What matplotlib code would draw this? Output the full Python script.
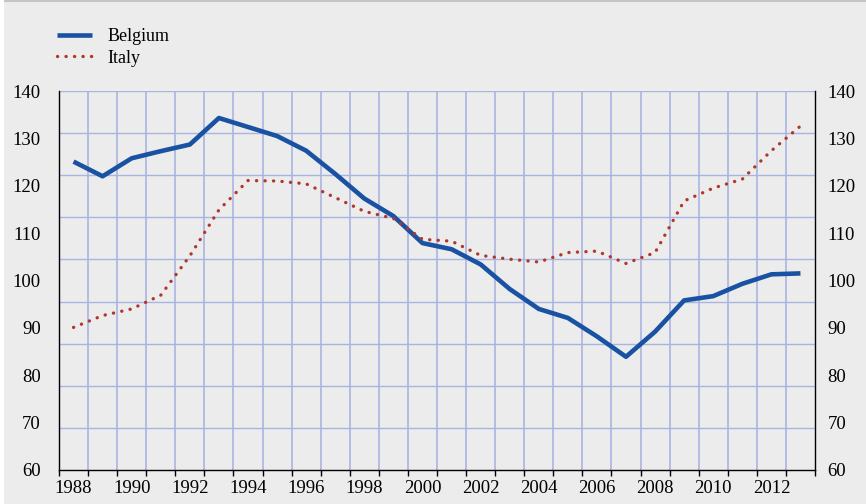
import matplotlib
matplotlib.use("Agg")
import matplotlib.pyplot as plt
from matplotlib.lines import Line2D
import numpy as np

years = list(range(1988, 2014))
belgium = [125.1, 122.0, 125.8, 127.3, 128.7, 134.3, 132.4, 130.5, 127.4, 122.5,
           117.3, 113.6, 107.9, 106.6, 103.4, 98.2, 94.0, 92.1, 88.2, 83.9,
           89.2, 95.8, 96.7, 99.3, 101.3, 101.5]
italy = [90.1, 92.6, 94.0, 96.9, 105.2, 114.9, 121.1, 121.0, 120.4, 117.5,
         114.6, 113.1, 108.7, 108.3, 105.3, 104.5, 103.9, 105.9, 106.2, 103.6,
         105.9, 116.8, 119.5, 121.4, 127.4, 132.6]
ytick_values = [60, 70, 80, 90, 100, 110, 120, 130, 140]
xtick_labels = [str(y) for y in years[::2]]

BG = "#ececec"
GRID = "#aab4e2"
BLUE = "#1a52a3"
RED = "#b0372c"
FONT = "Liberation Serif"

plt.rcParams['font.family'] = [FONT, 'DejaVu Serif']

fig = plt.figure(figsize=(8.66, 5.04), dpi=100)
fig.patch.set_facecolor(BG)

ax = fig.add_axes([59/866, 1-470/504, 756/866, 379/504])
ax.set_facecolor(BG)

n = len(years)
x = np.arange(n)
ax.set_xlim(-0.5, n - 0.5)
ax.set_ylim(60, 140)

# grid: vertical at band boundaries, horizontal at 9 equal divisions
for b in np.arange(0.5, n - 0.5, 1.0):
    ax.axvline(b, color=GRID, lw=1.2, zorder=1)
for g in np.linspace(60, 140, 10)[1:]:
    ax.axhline(g, color=GRID, lw=1.0, zorder=1)

ax.plot(x, belgium, color=BLUE, lw=3.3, zorder=3, solid_capstyle='butt',
        label="Belgium")
ax.plot(x, italy, color=RED, lw=2.4, zorder=4, linestyle=(0, (0.05, 2.5)),
        dash_capstyle='round', label="Italy")

ax.spines['top'].set_visible(False)
for s in ['left', 'right', 'bottom']:
    ax.spines[s].set_color('black')
    ax.spines[s].set_linewidth(1.0)

# x ticks: marks at band boundaries, labels at centres of even years
ax.set_xticks(np.arange(-0.5, n, 1.0))
ax.set_xticklabels([])
ax.tick_params(axis='x', which='major', direction='out', length=4, width=1,
               color='black')
ax.set_xticks(x[::2], minor=True)
ax.set_xticklabels(xtick_labels, minor=True, fontsize=13.5, family=FONT)
ax.tick_params(axis='x', which='minor', length=0, pad=7)

# left y labels
ax.set_yticks(ytick_values)
ax.set_yticklabels([str(v) for v in ytick_values], fontsize=13.5, family=FONT)
ax.tick_params(axis='y', length=0, pad=13)

# right y labels
ax2 = ax.twinx()
ax2.set_ylim(60, 140)
ax2.set_yticks(ytick_values)
ax2.set_yticklabels([str(v) for v in ytick_values], fontsize=13.5, family=FONT)
ax2.tick_params(axis='y', length=0, pad=9)
for s in ['top', 'left', 'bottom', 'right']:
    ax2.spines[s].set_visible(False)

fig.legend(loc='center left', bbox_to_anchor=(57/866, 1-47.5/504),
           frameon=False, prop={'family': FONT, 'size': 13},
           handlelength=1.95, handletextpad=0.85, labelspacing=0.25,
           borderpad=0, borderaxespad=0)

# frame top line and white strip on the left
fig.add_artist(Line2D([4/866, 1], [1 - 1/504, 1 - 1/504], color="#c4c4c4",
                      lw=1.5, transform=fig.transFigure))
fig.add_artist(Line2D([2/866, 2/866], [0, 1], color="white",
                      lw=3, transform=fig.transFigure))

fig.savefig("out.png", dpi=100, facecolor=BG)
